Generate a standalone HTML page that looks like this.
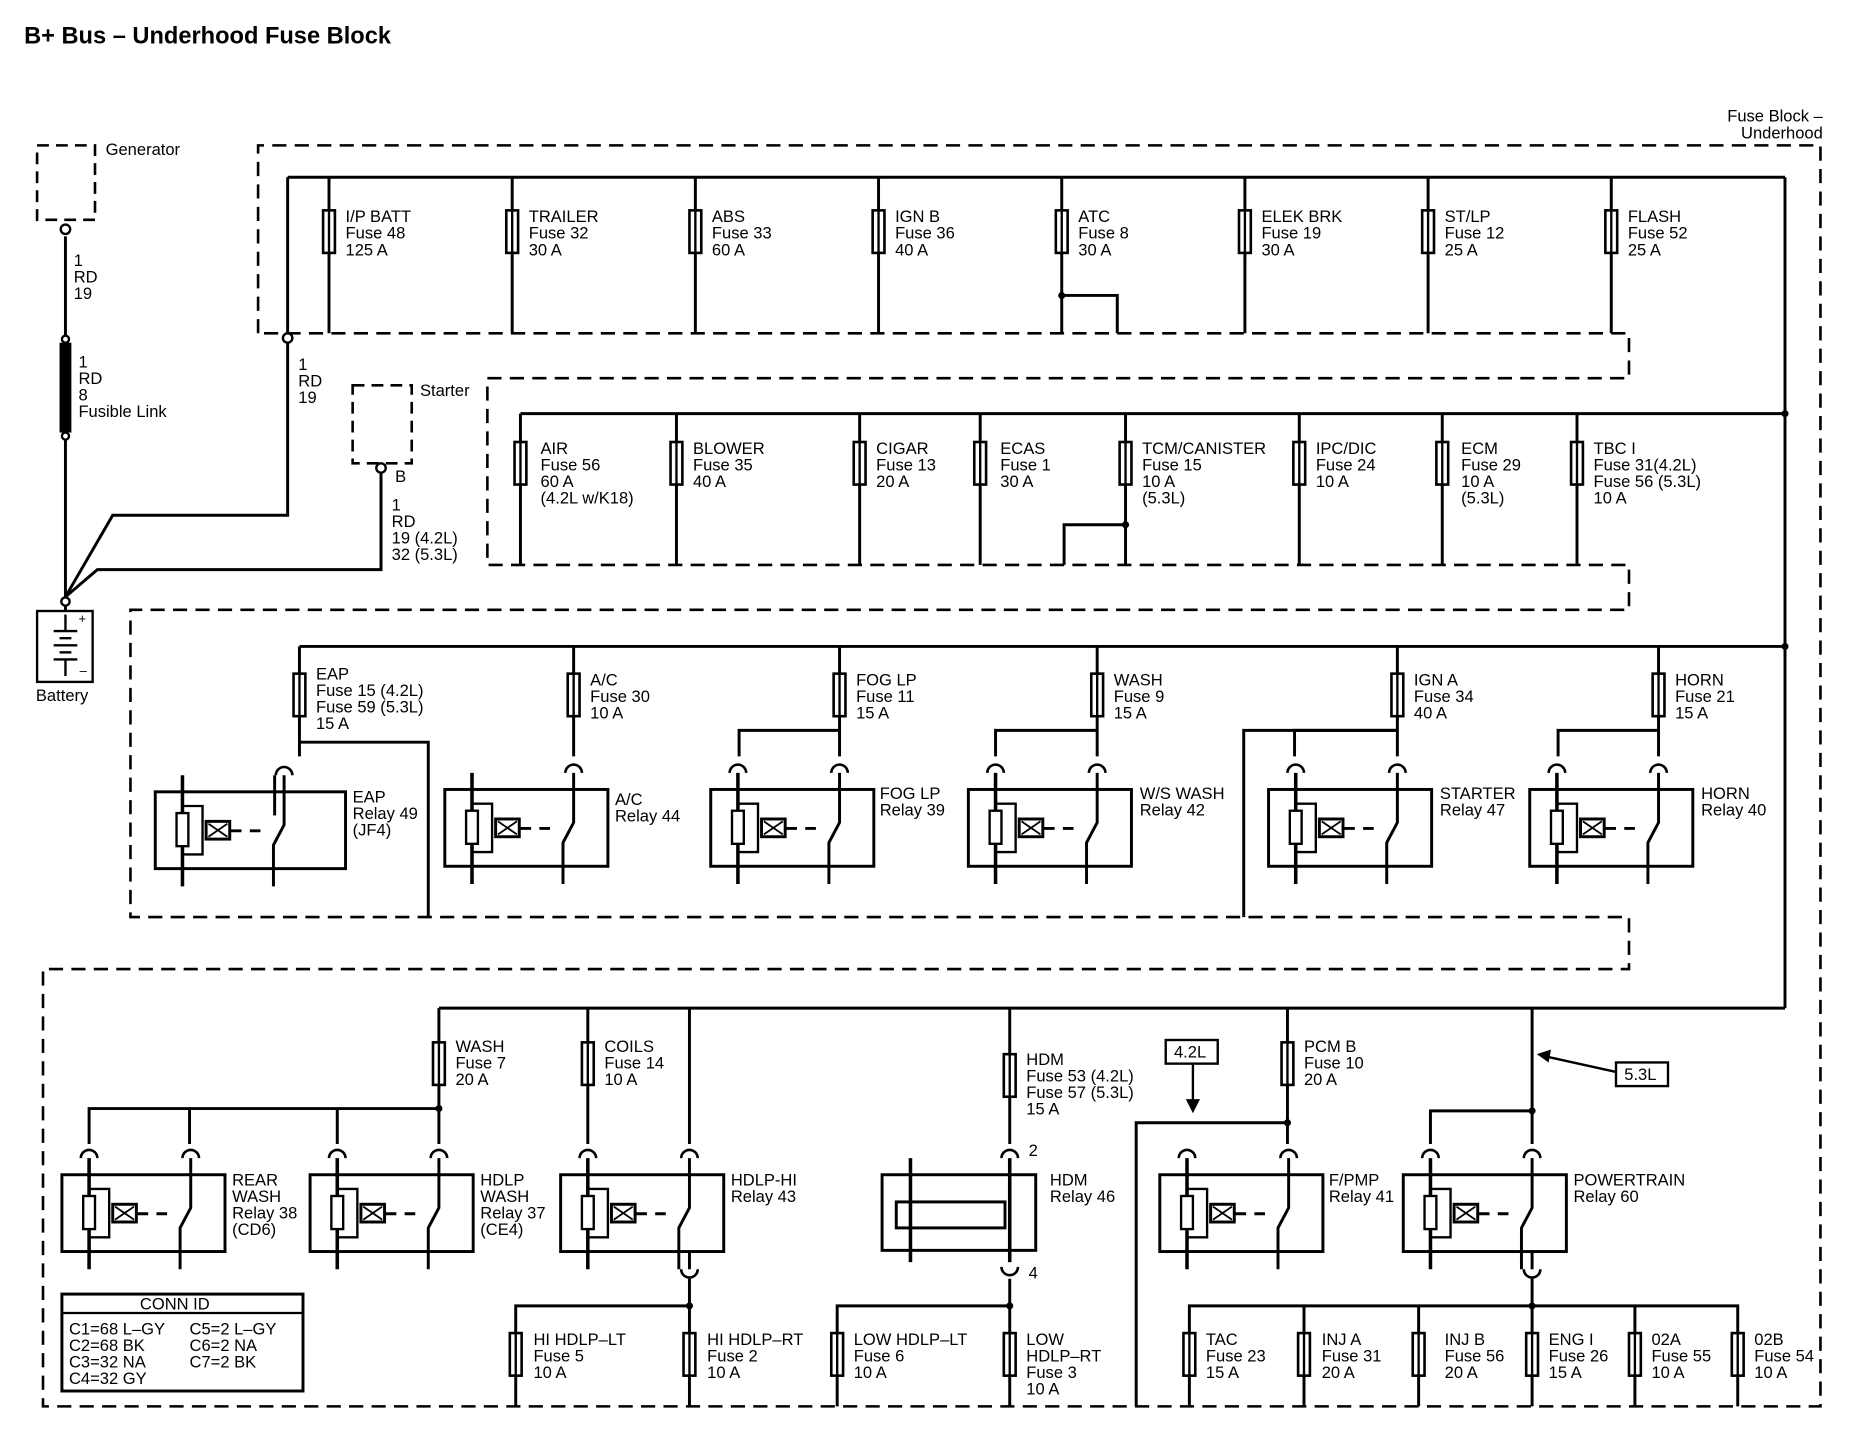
<!DOCTYPE html>
<html><head><meta charset="utf-8"><style>
html,body{margin:0;padding:0;background:#fff}
svg{display:block}
text{font-family:"Liberation Sans",Arial,sans-serif;font-size:14px;fill:#000}
</style></head><body>
<svg width="1854" height="1456" viewBox="0 0 1568 1232" xmlns="http://www.w3.org/2000/svg">
<defs>
<g id="fuse"><line x1="0" y1="-22" x2="0" y2="22" stroke="#000" stroke-width="2"/><rect x="-5" y="-18" width="10" height="36" fill="#fff" stroke="#000" stroke-width="2.2"/><line x1="0" y1="-18" x2="0" y2="18" stroke="#000" stroke-width="2"/></g>
<g id="arc"><path d="M-7,0 A7 7 0 0 1 7,0" fill="none" stroke="#000" stroke-width="2.2"/></g>
<g id="arcd"><path d="M-7,0 A7 7 0 0 0 7,0" fill="none" stroke="#000" stroke-width="2.2"/></g>
<g id="relayin" fill="none" stroke="#000">
<line x1="23" y1="-14" x2="23" y2="80" stroke-width="3"/>
<rect x="18" y="18" width="10" height="28" fill="#fff" stroke-width="2"/>
<polyline points="23,12 40,12 40,53 23,53" stroke-width="2"/>
<rect x="43" y="25" width="20" height="15" stroke-width="2.5"/>
<path d="M45,27 L61,38 M61,27 L45,38" stroke-width="1.5"/>
<line x1="64" y1="33" x2="96" y2="33" stroke-width="2.5" stroke-dasharray="9,7"/>
<polyline points="109,-14 109,28 100,45 100,80" stroke-width="2.5"/>
<use href="#arc" x="109" y="-14"/>
</g>
<g id="relay">
<rect x="0" y="0" width="138" height="65" stroke="#000" stroke-width="2.5" fill="#fff"/>
<use href="#relayin"/>
</g>
</defs>

<text x="20" y="37" style="font-size:20px;font-weight:bold">B+ Bus – Underhood Fuse Block</text>
<text x="1542" y="103" text-anchor="end">Fuse Block –</text>
<text x="1542" y="117" text-anchor="end">Underhood</text>

<path d="M218,282 L218,123 L1540,123 L1540,1190 L36,1190 L36,820 L1378,820 L1378,776 L110,776 L110,516 L1378,516 L1378,478 L412,478 L412,320 L1378,320 L1378,282 Z" fill="none" stroke="#000" stroke-width="2.2" stroke-dasharray="12,7"/>

<g stroke="#000" stroke-width="2.5" fill="none">
<line x1="243" y1="150" x2="1510" y2="150"/>
<line x1="243" y1="150" x2="243" y2="283"/>
<line x1="278" y1="150" x2="278" y2="282"/><line x1="433" y1="150" x2="433" y2="282"/>
<line x1="588" y1="150" x2="588" y2="282"/><line x1="743" y1="150" x2="743" y2="282"/>
<line x1="898" y1="150" x2="898" y2="282"/><line x1="1053" y1="150" x2="1053" y2="282"/>
<line x1="1208" y1="150" x2="1208" y2="282"/><line x1="1363" y1="150" x2="1363" y2="282"/>
<polyline points="898,250 945,250 945,282"/>
<line x1="1510" y1="150" x2="1510" y2="853"/>
<line x1="440" y1="350" x2="1510" y2="350"/>
<line x1="440" y1="350" x2="440" y2="478"/><line x1="572" y1="350" x2="572" y2="478"/>
<line x1="727" y1="350" x2="727" y2="478"/><line x1="829" y1="350" x2="829" y2="478"/>
<line x1="952" y1="350" x2="952" y2="478"/><line x1="1099" y1="350" x2="1099" y2="478"/>
<line x1="1220" y1="350" x2="1220" y2="478"/><line x1="1334" y1="350" x2="1334" y2="478"/>
<polyline points="952,444 900,444 900,478"/>
<line x1="253" y1="547" x2="1510" y2="547"/>
<line x1="253" y1="547" x2="253" y2="640"/>
<polyline points="253,628 362,628 362,776"/>
<line x1="485" y1="547" x2="485" y2="640"/>
<polyline points="710,547 710,640"/><polyline points="625,640 625,618 710,618"/>
<polyline points="928,547 928,640"/><polyline points="842,640 842,618 928,618"/>
<polyline points="1182,547 1182,640"/><polyline points="1095,640 1095,618 1182,618"/><polyline points="1182,618 1052,618 1052,776"/>
<polyline points="1403,547 1403,640"/><polyline points="1318,640 1318,618 1403,618"/>
<line x1="371" y1="853" x2="1510" y2="853"/>
<line x1="371" y1="853" x2="371" y2="968"/>
<polyline points="75,968 75,938 371,938"/><line x1="160" y1="938" x2="160" y2="968"/><line x1="285" y1="938" x2="285" y2="968"/>
<line x1="497" y1="853" x2="497" y2="968"/>
<line x1="583" y1="853" x2="583" y2="968"/>
<line x1="854" y1="853" x2="854" y2="968"/>
<line x1="1089" y1="853" x2="1089" y2="968"/>
<polyline points="961,1190 961,950 1089,950"/>
<line x1="1296" y1="853" x2="1296" y2="968"/>
<polyline points="1210,968 1210,940 1296,940"/>
<line x1="583" y1="1082" x2="583" y2="1190"/><polyline points="583,1105 436,1105 436,1190"/>
<line x1="854" y1="1082" x2="854" y2="1190"/><polyline points="854,1105 708,1105 708,1190"/>
<line x1="1296" y1="1082" x2="1296" y2="1105"/>
<polyline points="1006,1190 1006,1105 1470,1105 1470,1190"/>
<line x1="1103" y1="1105" x2="1103" y2="1190"/><line x1="1200" y1="1105" x2="1200" y2="1190"/>
<line x1="1296" y1="1105" x2="1296" y2="1190"/><line x1="1383" y1="1105" x2="1383" y2="1190"/>
<line x1="55" y1="200" x2="55" y2="290"/>
<line x1="55" y1="368" x2="55" y2="505"/>
<polyline points="55,505 95,436 243,436 243,290"/>
<polyline points="55,505 82,482 322,482 322,400"/>
<line x1="55" y1="505" x2="55" y2="517"/>
</g>
<g fill="#000">
<circle cx="1510" cy="350" r="3"/><circle cx="1510" cy="547" r="3"/><circle cx="952" cy="444" r="3"/><circle cx="898" cy="250" r="3"/>
<circle cx="371" cy="938" r="3"/><circle cx="1089" cy="950" r="3"/><circle cx="1296" cy="940" r="3"/><circle cx="583" cy="1105" r="3"/><circle cx="854" cy="1105" r="3"/><circle cx="1296" cy="1105" r="3"/>
</g>
<g fill="#fff" stroke="#000" stroke-width="2">
<circle cx="243" cy="286" r="4"/><circle cx="55" cy="194" r="4"/><circle cx="322" cy="396" r="4"/><circle cx="55" cy="287" r="3"/><circle cx="55" cy="369" r="3"/><circle cx="55" cy="509" r="3.5"/>
</g>
<rect x="50" y="290" width="10" height="76" fill="#000"/>
<rect x="31" y="123" width="49" height="63" fill="none" stroke="#000" stroke-width="2.2" stroke-dasharray="10,6"/>
<rect x="298" y="326" width="50" height="66" fill="none" stroke="#000" stroke-width="2.2" stroke-dasharray="10,6"/>
<rect x="31" y="517" width="47" height="60" fill="none" stroke="#000" stroke-width="2"/>
<g stroke="#000" stroke-width="2"><line x1="45" y1="534" x2="65" y2="534"/><line x1="50" y1="540" x2="60" y2="540"/><line x1="45" y1="546" x2="65" y2="546"/><line x1="50" y1="552" x2="60" y2="552"/><line x1="45" y1="558" x2="65" y2="558"/><line x1="55" y1="520" x2="55" y2="534"/><line x1="55" y1="558" x2="55" y2="572"/></g>
<text x="66" y="527" style="font-size:11px">+</text><text x="67" y="571" style="font-size:11px">–</text>
<text x="89" y="131">Generator</text><text x="355" y="335">Starter</text><text x="334" y="408">B</text><text x="30" y="593">Battery</text>
<text x="62" y="225">1</text><text x="62" y="239">RD</text><text x="62" y="253">19</text>
<text x="66" y="311">1</text><text x="66" y="325">RD</text><text x="66" y="339">8</text><text x="66" y="353">Fusible Link</text>
<text x="252" y="313">1</text><text x="252" y="327">RD</text><text x="252" y="341">19</text>
<text x="331" y="432">1</text><text x="331" y="446">RD</text><text x="331" y="460">19 (4.2L)</text><text x="331" y="474">32 (5.3L)</text>

<use href="#fuse" x="278" y="196"/><use href="#fuse" x="433" y="196"/><use href="#fuse" x="588" y="196"/><use href="#fuse" x="743" y="196"/>
<use href="#fuse" x="898" y="196"/><use href="#fuse" x="1053" y="196"/><use href="#fuse" x="1208" y="196"/><use href="#fuse" x="1363" y="196"/>
<text x="292" y="188">I/P BATT</text><text x="292" y="202">Fuse 48</text><text x="292" y="216">125 A</text>
<text x="447" y="188">TRAILER</text><text x="447" y="202">Fuse 32</text><text x="447" y="216">30 A</text>
<text x="602" y="188">ABS</text><text x="602" y="202">Fuse 33</text><text x="602" y="216">60 A</text>
<text x="757" y="188">IGN B</text><text x="757" y="202">Fuse 36</text><text x="757" y="216">40 A</text>
<text x="912" y="188">ATC</text><text x="912" y="202">Fuse 8</text><text x="912" y="216">30 A</text>
<text x="1067" y="188">ELEK BRK</text><text x="1067" y="202">Fuse 19</text><text x="1067" y="216">30 A</text>
<text x="1222" y="188">ST/LP</text><text x="1222" y="202">Fuse 12</text><text x="1222" y="216">25 A</text>
<text x="1377" y="188">FLASH</text><text x="1377" y="202">Fuse 52</text><text x="1377" y="216">25 A</text>
<use href="#fuse" x="440" y="392"/><use href="#fuse" x="572" y="392"/><use href="#fuse" x="727" y="392"/><use href="#fuse" x="829" y="392"/>
<use href="#fuse" x="952" y="392"/><use href="#fuse" x="1099" y="392"/><use href="#fuse" x="1220" y="392"/><use href="#fuse" x="1334" y="392"/>
<text x="457" y="384">AIR</text><text x="457" y="398">Fuse 56</text><text x="457" y="412">60 A</text><text x="457" y="426">(4.2L w/K18)</text>
<text x="586" y="384">BLOWER</text><text x="586" y="398">Fuse 35</text><text x="586" y="412">40 A</text>
<text x="741" y="384">CIGAR</text><text x="741" y="398">Fuse 13</text><text x="741" y="412">20 A</text>
<text x="846" y="384">ECAS</text><text x="846" y="398">Fuse 1</text><text x="846" y="412">30 A</text>
<text x="966" y="384">TCM/CANISTER</text><text x="966" y="398">Fuse 15</text><text x="966" y="412">10 A</text><text x="966" y="426">(5.3L)</text>
<text x="1113" y="384">IPC/DIC</text><text x="1113" y="398">Fuse 24</text><text x="1113" y="412">10 A</text>
<text x="1236" y="384">ECM</text><text x="1236" y="398">Fuse 29</text><text x="1236" y="412">10 A</text><text x="1236" y="426">(5.3L)</text>
<text x="1348" y="384">TBC I</text><text x="1348" y="398">Fuse 31(4.2L)</text><text x="1348" y="412">Fuse 56 (5.3L)</text><text x="1348" y="426">10 A</text>
<use href="#fuse" x="253" y="588"/><use href="#fuse" x="485" y="588"/><use href="#fuse" x="710" y="588"/><use href="#fuse" x="928" y="588"/><use href="#fuse" x="1182" y="588"/><use href="#fuse" x="1403" y="588"/>
<text x="267" y="575">EAP</text><text x="267" y="589">Fuse 15 (4.2L)</text><text x="267" y="603">Fuse 59 (5.3L)</text><text x="267" y="617">15 A</text>
<text x="499" y="580">A/C</text><text x="499" y="594">Fuse 30</text><text x="499" y="608">10 A</text>
<text x="724" y="580">FOG LP</text><text x="724" y="594">Fuse 11</text><text x="724" y="608">15 A</text>
<text x="942" y="580">WASH</text><text x="942" y="594">Fuse 9</text><text x="942" y="608">15 A</text>
<text x="1196" y="580">IGN A</text><text x="1196" y="594">Fuse 34</text><text x="1196" y="608">40 A</text>
<text x="1417" y="580">HORN</text><text x="1417" y="594">Fuse 21</text><text x="1417" y="608">15 A</text>
<g transform="translate(131,670)"><rect x="0" y="0" width="161" height="65" stroke="#000" stroke-width="2.5" fill="#fff"/><use href="#relayin"/></g>
<line x1="232" y1="656" x2="232" y2="690" stroke="#000" stroke-width="2.5"/>
<g transform="translate(376,668)"><use href="#relay"/></g>
<g transform="translate(601,668)"><use href="#relay"/><use href="#arc" x="23" y="-14"/></g>
<g transform="translate(819,668)"><use href="#relay"/><use href="#arc" x="23" y="-14"/></g>
<g transform="translate(1073,668)"><use href="#relay"/><use href="#arc" x="23" y="-14"/></g>
<g transform="translate(1294,668)"><use href="#relay"/><use href="#arc" x="23" y="-14"/></g>
<text x="298" y="679">EAP</text><text x="298" y="693">Relay 49</text><text x="298" y="707">(JF4)</text>
<text x="520" y="681">A/C</text><text x="520" y="695">Relay 44</text>
<text x="744" y="676">FOG LP</text><text x="744" y="690">Relay 39</text>
<text x="964" y="676">W/S WASH</text><text x="964" y="690">Relay 42</text>
<text x="1218" y="676">STARTER</text><text x="1218" y="690">Relay 47</text>
<text x="1439" y="676">HORN</text><text x="1439" y="690">Relay 40</text>
<use href="#fuse" x="371" y="900"/><use href="#fuse" x="497" y="900"/><use href="#fuse" x="854" y="910"/><use href="#fuse" x="1089" y="900"/>
<text x="385" y="890">WASH</text><text x="385" y="904">Fuse 7</text><text x="385" y="918">20 A</text>
<text x="511" y="890">COILS</text><text x="511" y="904">Fuse 14</text><text x="511" y="918">10 A</text>
<text x="868" y="901">HDM</text><text x="868" y="915">Fuse 53 (4.2L)</text><text x="868" y="929">Fuse 57 (5.3L)</text><text x="868" y="943">15 A</text>
<text x="1103" y="890">PCM B</text><text x="1103" y="904">Fuse 10</text><text x="1103" y="918">20 A</text>
<g transform="translate(52,994)"><use href="#relay"/><use href="#arc" x="23" y="-14"/></g>
<g transform="translate(262,994)"><use href="#relay"/><use href="#arc" x="23" y="-14"/></g>
<g transform="translate(474,994)"><use href="#relay"/><use href="#arc" x="23" y="-14"/><use href="#arcd" x="109" y="80"/></g>
<g transform="translate(981,994)"><use href="#relay"/><use href="#arc" x="23" y="-14"/></g>
<g transform="translate(1187,994)"><use href="#relay"/><use href="#arc" x="23" y="-14"/><use href="#arcd" x="109" y="80"/></g>
<line x1="583" y1="1058" x2="583" y2="1074" stroke="#000" stroke-width="2.5"/>
<line x1="1296" y1="1058" x2="1296" y2="1074" stroke="#000" stroke-width="2.5"/>
<rect x="746" y="994" width="130" height="64" fill="#fff" stroke="#000" stroke-width="2.5"/>
<rect x="758" y="1017" width="92" height="22" fill="none" stroke="#000" stroke-width="2.5"/>
<line x1="770" y1="980" x2="770" y2="1068" stroke="#000" stroke-width="3"/>
<line x1="854" y1="980" x2="854" y2="1068" stroke="#000" stroke-width="3"/>
<use href="#arc" x="854" y="980"/><use href="#arcd" x="854" y="1072"/>
<text x="870" y="978">2</text><text x="870" y="1082">4</text>
<text x="196" y="1003">REAR</text><text x="196" y="1017">WASH</text><text x="196" y="1031">Relay 38</text><text x="196" y="1045">(CD6)</text>
<text x="406" y="1003">HDLP</text><text x="406" y="1017">WASH</text><text x="406" y="1031">Relay 37</text><text x="406" y="1045">(CE4)</text>
<text x="618" y="1003">HDLP-HI</text><text x="618" y="1017">Relay 43</text>
<text x="888" y="1003">HDM</text><text x="888" y="1017">Relay 46</text>
<text x="1124" y="1003">F/PMP</text><text x="1124" y="1017">Relay 41</text>
<text x="1331" y="1003">POWERTRAIN</text><text x="1331" y="1017">Relay 60</text>
<use href="#fuse" x="436" y="1146"/><use href="#fuse" x="583" y="1146"/><use href="#fuse" x="708" y="1146"/><use href="#fuse" x="854" y="1146"/>
<use href="#fuse" x="1006" y="1146"/><use href="#fuse" x="1103" y="1146"/><use href="#fuse" x="1200" y="1146"/><use href="#fuse" x="1296" y="1146"/><use href="#fuse" x="1383" y="1146"/><use href="#fuse" x="1470" y="1146"/>
<text x="451" y="1138">HI HDLP–LT</text><text x="451" y="1152">Fuse 5</text><text x="451" y="1166">10 A</text>
<text x="598" y="1138">HI HDLP–RT</text><text x="598" y="1152">Fuse 2</text><text x="598" y="1166">10 A</text>
<text x="722" y="1138">LOW HDLP–LT</text><text x="722" y="1152">Fuse 6</text><text x="722" y="1166">10 A</text>
<text x="868" y="1138">LOW</text><text x="868" y="1152">HDLP–RT</text><text x="868" y="1166">Fuse 3</text><text x="868" y="1180">10 A</text>
<text x="1020" y="1138">TAC</text><text x="1020" y="1152">Fuse 23</text><text x="1020" y="1166">15 A</text>
<text x="1118" y="1138">INJ A</text><text x="1118" y="1152">Fuse 31</text><text x="1118" y="1166">20 A</text>
<text x="1222" y="1138">INJ B</text><text x="1222" y="1152">Fuse 56</text><text x="1222" y="1166">20 A</text>
<text x="1310" y="1138">ENG I</text><text x="1310" y="1152">Fuse 26</text><text x="1310" y="1166">15 A</text>
<text x="1397" y="1138">02A</text><text x="1397" y="1152">Fuse 55</text><text x="1397" y="1166">10 A</text>
<text x="1484" y="1138">02B</text><text x="1484" y="1152">Fuse 54</text><text x="1484" y="1166">10 A</text>
<rect x="986" y="880" width="44" height="20" fill="#fff" stroke="#000" stroke-width="2"/><text x="993" y="895">4.2L</text>
<line x1="1009" y1="900" x2="1009" y2="935" stroke="#000" stroke-width="2"/><path d="M1003,930 L1009,942 L1015,930 Z" fill="#000"/>
<rect x="1367" y="899" width="44" height="20" fill="#fff" stroke="#000" stroke-width="2"/><text x="1374" y="914">5.3L</text>
<line x1="1367" y1="907" x2="1308" y2="894" stroke="#000" stroke-width="2"/><path d="M1300,892 L1312,888 L1310,899 Z" fill="#000"/>
<rect x="52" y="1095" width="204" height="82" fill="#fff" stroke="#000" stroke-width="2.5"/>
<line x1="52" y1="1111" x2="256" y2="1111" stroke="#000" stroke-width="2"/>
<text x="118" y="1108">CONN ID</text>
<text x="58" y="1129">C1=68 L–GY</text><text x="160" y="1129">C5=2 L–GY</text>
<text x="58" y="1143">C2=68 BK</text><text x="160" y="1143">C6=2 NA</text>
<text x="58" y="1157">C3=32 NA</text><text x="160" y="1157">C7=2 BK</text>
<text x="58" y="1171">C4=32 GY</text>
</svg>
</body></html>
